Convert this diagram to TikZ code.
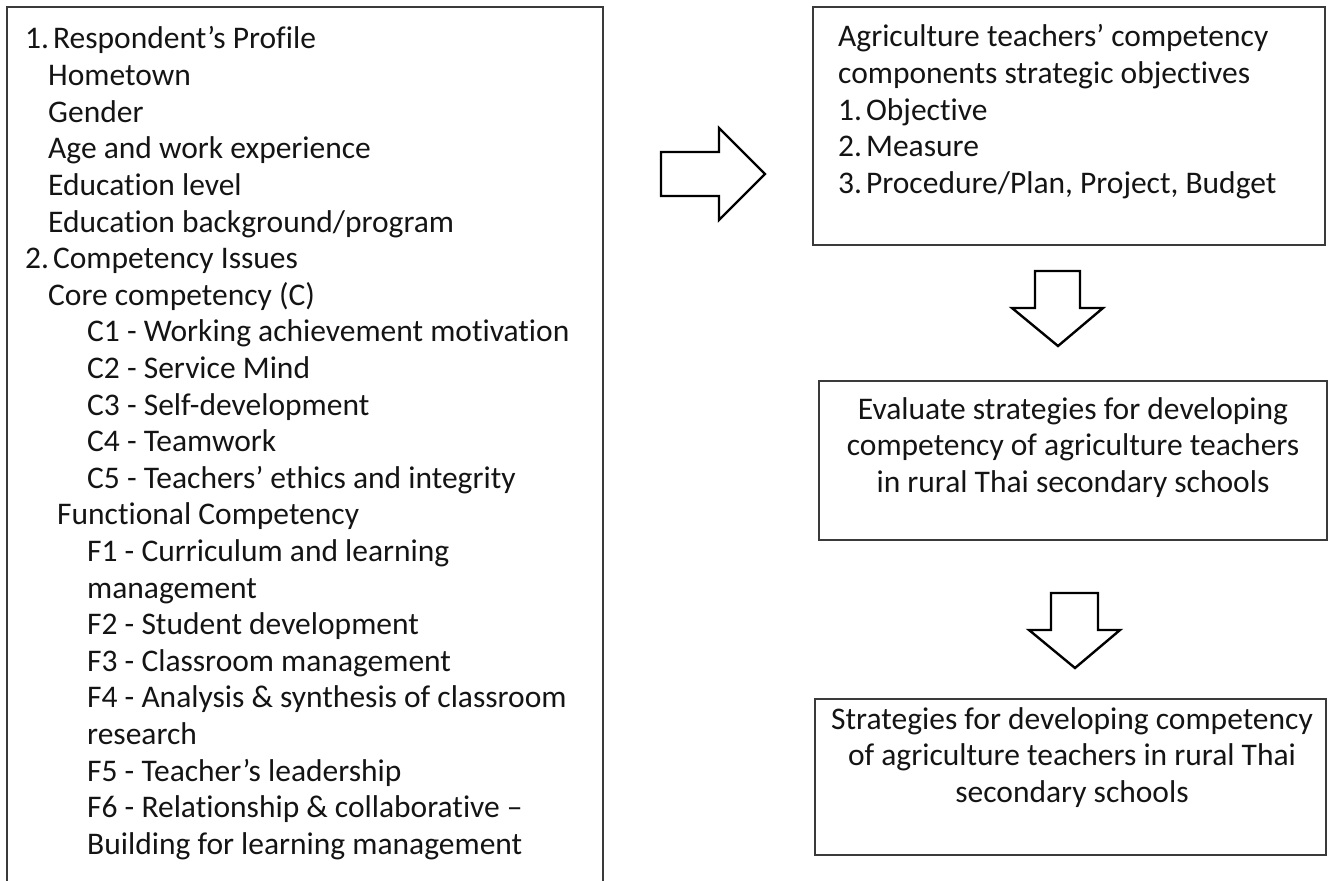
\documentclass[tikz,border=0pt]{standalone}
\usepackage{fontspec}
\setmainfont[Ligatures=NoCommon]{Carlito}
\definecolor{boxline}{HTML}{3A3A3A}
\definecolor{txt}{HTML}{141414}
\newcommand{\numsp}{\hspace{4pt}}
\begin{document}
\begin{tikzpicture}[x=1pt,y=-1pt,
  boxstyle/.style={draw=boxline, line width=2pt, rectangle, inner sep=0pt},
  ln/.style={anchor=base west, inner sep=0pt, text=txt, font=\fontsize{31.5}{36.6}\selectfont},
  cln/.style={anchor=base, inner sep=0pt, text=txt, font=\fontsize{31.5}{36.6}\selectfont},
  blockarrow/.style={draw=black, line width=2.4pt, line join=miter, fill=white}]
\useasboundingbox (0,0) rectangle (1332,880);
% left box (open at the bottom, cut by the page edge)
\coordinate (lbl) at (7,881);
\coordinate (ltl) at (7,7);
\coordinate (ltr) at (603,7);
\coordinate (lbr) at (603,881);
\draw[draw=boxline, line width=2pt] (lbl) -- (ltl) -- (ltr) -- (lbr);
% left texts
\node[ln] (l0)  at (25,49)    {1.\numsp Respondent’s Profile};
\node[ln] (l1)  at (48,85.6)  {Hometown};
\node[ln] (l2)  at (48,122.2) {Gender};
\node[ln] (l3)  at (48,158.8) {Age and work experience};
\node[ln] (l4)  at (48,195.4) {Education level};
\node[ln] (l5)  at (48,232)   {Education background/program};
\node[ln] (l6)  at (25,268.6) {2.\numsp Competency Issues};
\node[ln] (l7)  at (48,305.2) {Core competency (C)};
\node[ln] (l8)  at (87,341.8) {C1 - Working achievement motivation};
\node[ln] (l9)  at (87,378.4) {C2 - Service Mind};
\node[ln] (l10) at (87,415)   {C3 - Self-development};
\node[ln] (l11) at (87,451.6) {C4 - Teamwork};
\node[ln] (l12) at (87,488.2) {C5 - Teachers’ ethics and integrity};
\node[ln] (l13) at (57,524.8) {Functional Competency};
\node[ln] (l14) at (87,561.4) {F1 - Curriculum and learning};
\node[ln] (l15) at (87,598)   {management};
\node[ln] (l16) at (87,634.6) {F2 - Student development};
\node[ln] (l17) at (87,671.2) {F3 - Classroom management};
\node[ln] (l18) at (87,707.8) {F4 - Analysis \& synthesis of classroom};
\node[ln] (l19) at (87,744.4) {research};
\node[ln] (l20) at (87,781)   {F5 - Teacher’s leadership};
\node[ln] (l21) at (87,817.6) {F6 - Relationship \& collaborative –};
\node[ln] (l22) at (87,854.2) {Building for learning management};
% right boxes
\node[boxstyle, minimum width=512pt, minimum height=238pt] (obj) at (1069,126) {};
\node[boxstyle, minimum width=508pt, minimum height=159pt] (eval) at (1073,460.5) {};
\node[boxstyle, minimum width=511pt, minimum height=156pt] (strat) at (1070.5,777) {};
% texts in box 2
\node[ln] (o0) at (838,47)    {Agriculture teachers’ competency};
\node[ln] (o1) at (838,83.6)  {components strategic objectives};
\node[ln] (o2) at (838,120.2) {1.\numsp Objective};
\node[ln] (o3) at (838,156.8) {2.\numsp Measure};
\node[ln] (o4) at (838,193.4) {3.\numsp Procedure/Plan, Project, Budget};
% evaluate box
\node[cln] (e0) at (1073,419)   {Evaluate strategies for developing};
\node[cln] (e1) at (1073,455.6) {competency of agriculture teachers};
\node[cln] (e2) at (1073,492.2) {in rural Thai secondary schools};
% strategies box
\node[cln] (s0) at (1072,729)   {Strategies for developing competency};
\node[cln] (s1) at (1072,765.6) {of agriculture teachers in rural Thai};
\node[cln] (s2) at (1072,802.2) {secondary schools};
% block arrows
\draw[blockarrow] (661,152) -- (719,152) -- (719,128) -- (765,174) -- (719,220) -- (719,196) -- (661,196) -- cycle;
\draw[blockarrow] (1035,271) -- (1080,271) -- (1080,308) -- (1103,308) -- (1058,346) -- (1012,308) -- (1035,308) -- cycle;
\draw[blockarrow] (1051,593) -- (1098,593) -- (1098,630) -- (1120,630) -- (1075,668) -- (1029,630) -- (1051,630) -- cycle;
\end{tikzpicture}
\end{document}
